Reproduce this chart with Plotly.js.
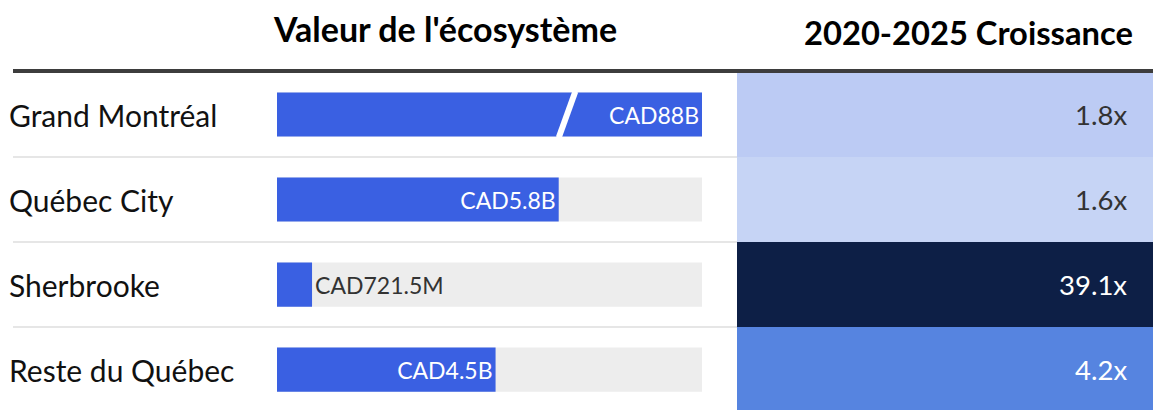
<!DOCTYPE html>
<html>
<head>
<meta charset="utf-8">
<script src="https://cdn.plot.ly/plotly-3.0.1.min.js"></script>
<style>html,body{margin:0;padding:0;background:#fff;}#chart{width:1153px;height:410px;}</style>
</head>
<body>
<div id="chart"></div>
<script>
// ---- data ----
const regions = ["Grand Montréal", "Québec City", "Sherbrooke", "Reste du Québec"];
const ecosystemValueB = [88, 5.8, 0.7215, 4.5];           // CAD billions
const valueLabels = ["CAD88B", "CAD5.8B", "CAD721.5M", "CAD4.5B"];
const growth = [1.8, 1.6, 39.1, 4.2];
const growthLabels = ["1.8x", "1.6x", "39.1x", "4.2x"];
const headerValue = "Valeur de l'écosystème";
const headerGrowth = "2020-2025 Croissance";

// ---- styles ----
const CAP = 8.75;                       // axis cap (Grand Montréal bar is broken)
const FONT = "Lato, 'Source Sans Pro', 'Noto Sans', sans-serif";
const barColor = "#3a60e2";
const trackColor = "#ededed";
const cellColors = ["#bccbf4", "#c6d4f5", "#0d1f46", "#5684e0"];
const cellTextColors = ["#333333", "#333333", "#ffffff", "#ffffff"];
const W = 1153, H = 410, TOP = 72;

const shown = ecosystemValueB.map(v => Math.min(v, CAP));
const textPos = ecosystemValueB.map(v => (v / CAP < 0.15 ? "outside" : "inside"));

const traces = [
  { type: "bar", orientation: "h", y: regions, x: regions.map(() => CAP),
    marker: { color: trackColor }, width: 0.52, hoverinfo: "skip",
    xaxis: "x", yaxis: "y" },
  { type: "bar", orientation: "h", y: regions, x: shown, width: 0.52,
    marker: { color: barColor }, text: valueLabels, textposition: textPos,
    insidetextanchor: "end", constraintext: "none", cliponaxis: false,
    insidetextfont: { color: "#ffffff", size: 23, family: FONT },
    outsidetextfont: { color: "#333333", size: 23, family: FONT },
    xaxis: "x", yaxis: "y" },
  { type: "bar", orientation: "h", y: regions, x: regions.map(() => 1), width: 1,
    marker: { color: cellColors, line: { width: 0 } }, hoverinfo: "skip",
    xaxis: "x2", yaxis: "y" }
];

const annotations = [];
regions.forEach((r, i) => {
  annotations.push({ xref: "paper", x: 7 / W, xanchor: "left", yref: "y", y: r,
    text: r, showarrow: false, font: { size: 30, color: "#111111", family: FONT } });
  annotations.push({ xref: "x2", x: 0.943, xanchor: "right", yref: "y", y: r,
    text: growthLabels[i], showarrow: false,
    font: { size: 27.5, color: cellTextColors[i], family: FONT } });
});
annotations.push({ xref: "paper", x: 445 / W, xanchor: "center", yref: "paper",
  y: 1 + (TOP - 29) / (H - TOP), yanchor: "middle", text: "<b>" + headerValue + "</b>",
  showarrow: false, font: { size: 34, color: "#000000", family: FONT } });
annotations.push({ xref: "paper", x: 1135 / W, xanchor: "right", yref: "paper",
  y: 1 + (TOP - 32) / (H - TOP), yanchor: "middle", text: "<b>" + headerGrowth + "</b>",
  showarrow: false, font: { size: 32.7, color: "#000000", family: FONT } });

const shapes = [];
[0.5, 1.5, 2.5].forEach(yv => shapes.push({ type: "line", xref: "paper", yref: "y",
  x0: 13 / W, x1: 737 / W, y0: yv, y1: yv, line: { color: "#e6e6e6", width: 2 }, layer: "below" }));
shapes.push({ type: "line", xref: "paper", yref: "paper", x0: 13 / W, x1: 1,
  y0: 1 + 1 / (H - TOP), y1: 1 + 1 / (H - TOP), line: { color: "#3d3d3d", width: 4 } });
// break mark on the capped bar(s)
ecosystemValueB.forEach((v, i) => {
  if (v > CAP) shapes.push({ type: "line", xref: "x", yref: "y",
    x0: CAP * 0.663, x1: CAP * 0.702, y0: i + 0.27, y1: i - 0.27,
    line: { color: "#ffffff", width: 6 }, layer: "above" });
});

const layout = {
  width: W, height: H,
  margin: { l: 0, r: 0, t: TOP, b: 0 },
  paper_bgcolor: "#ffffff", plot_bgcolor: "#ffffff",
  showlegend: false, barmode: "overlay",
  font: { family: FONT },
  xaxis: { domain: [277 / W, 702 / W], range: [0, CAP], visible: false, fixedrange: true },
  xaxis2: { domain: [737 / W, 1], range: [0, 1], visible: false, anchor: "y", fixedrange: true },
  yaxis: { range: [3.476, -0.5], visible: false, fixedrange: true },
  annotations: annotations, shapes: shapes
};

Plotly.newPlot("chart", traces, layout, { displayModeBar: false, staticPlot: true });
</script>
</body>
</html>
